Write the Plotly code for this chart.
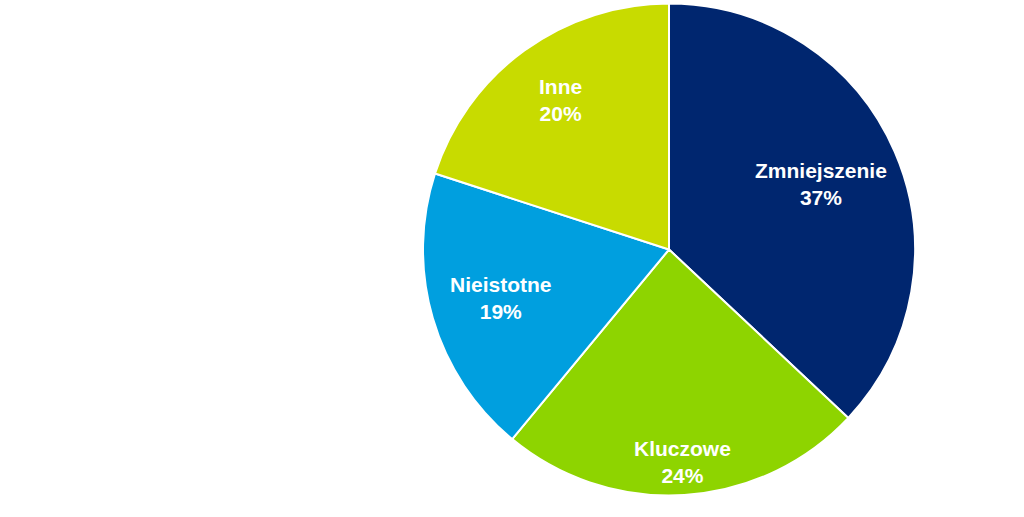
import math
import plotly.graph_objects as go

labels = ["Zmniejszenie", "Kluczowe", "Nieistotne", "Inne"]
values = [37, 24, 19, 20]
colors = ["#00266F", "#8ED400", "#009FDF", "#C8DB00"]

W, H = 1024, 517
cx, cy, R = 669, 249.5, 246          # pie centre / radius in pixels
label_r = [0.673, 0.865, 0.71, 0.75]  # where each label sits, as part of radius

fig = go.Figure(go.Pie(
    labels=labels,
    values=values,
    sort=False,
    direction="clockwise",
    rotation=0,
    marker=dict(colors=colors, line=dict(color="white", width=2)),
    textinfo="none",
    hoverinfo="label+percent",
    showlegend=False,
    domain=dict(x=[(cx - R) / W, (cx + R) / W], y=[1 - (cy + R) / H, 1 - (cy - R) / H]),
))

# labels at the middle angle of each slice (clockwise from 12 o'clock)
total = sum(values)
start = 0
for lab, val, rf in zip(labels, values, label_r):
    ang = 2 * math.pi * (start + val / 2) / total
    start += val
    px = cx + rf * R * math.sin(ang)
    py = cy - rf * R * math.cos(ang)
    fig.add_annotation(
        x=px / W, y=1 - py / H, xref="paper", yref="paper",
        text=f"<b>{lab}<br>{val}%</b>", showarrow=False,
        xanchor="center", yanchor="middle", align="center",
        font=dict(family="Liberation Sans, Arial, sans-serif", size=21, color="white"),
    )

fig.update_layout(
    width=W,
    height=H,
    margin=dict(l=0, r=0, t=0, b=0),
    paper_bgcolor="white",
    plot_bgcolor="white",
)

fig.write_html("out.html", config={"displayModeBar": False},
               post_script="document.body.style.margin='0';")
